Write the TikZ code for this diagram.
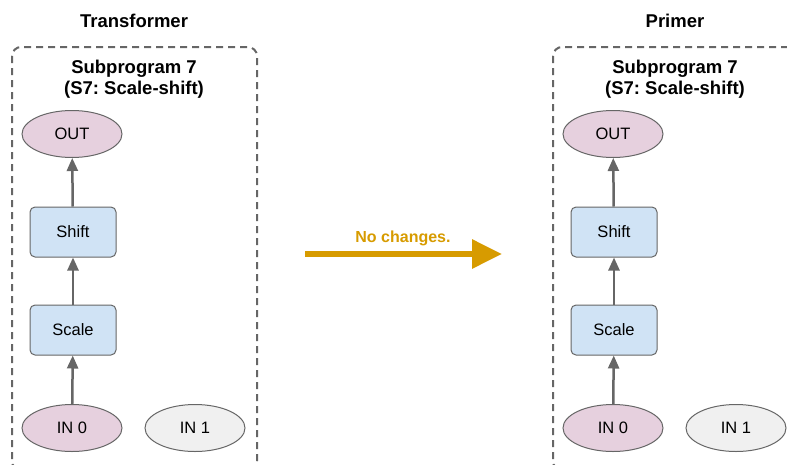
\documentclass[tikz,border=0pt]{standalone}
\usepackage{fontspec}
\setmainfont{Liberation Sans}
\usetikzlibrary{arrows.meta,shapes.geometric}
\definecolor{edgegray}{HTML}{666666}
\definecolor{iopink}{HTML}{E6D0DE}
\definecolor{iogray}{HTML}{F0F0F0}
\definecolor{opblue}{HTML}{D0E3F5}
\definecolor{changegold}{HTML}{D79B00}
\frenchspacing

\begin{document}
\begin{tikzpicture}[x=1pt,y=-1pt,
  io/.style={ellipse,draw=edgegray,line width=1pt,minimum width=100pt,minimum height=47pt,inner sep=0pt,font=\fontsize{16.5}{18}\selectfont},
  op/.style={rectangle,rounded corners=5pt,draw=edgegray,line width=1pt,fill=opblue,minimum width=86pt,minimum height=50pt,font=\fontsize{16.5}{18}\selectfont},
  flow/.style={draw=edgegray,line width=2.5pt,-{Triangle[length=13pt,width=11pt]}}]
\useasboundingbox (0,0) rectangle (787,464);
\clip (0,0) rectangle (787,464);
\foreach \dx/\ttl/\tag in {0/Transformer/T,541/Primer/P}{
  \node[font=\bfseries\fontsize{18.5}{20}\selectfont] (title\tag) at (134+\dx,21) {\ttl};
  \draw[edgegray,line width=2pt,dash pattern=on 7pt off 5pt,rounded corners=9pt] (12+\dx,47) rectangle (257+\dx,470);
  \node[font=\bfseries\fontsize{18.5}{21}\selectfont,align=center] (sub\tag) at (134+\dx,79) {Subprogram 7\\(S7: Scale-shift)};
  \node[io,fill=iopink] (out\tag) at (72+\dx,134) {OUT};
  \node[op] (shift\tag) at (73+\dx,232) {Shift};
  \node[op] (scale\tag) at (73+\dx,330) {Scale};
  \node[io,fill=iopink] (inA\tag) at (72+\dx,428) {IN 0};
  \node[io,fill=iogray] (inB\tag) at (195+\dx,428) {IN 1};
  \draw[flow] (inA\tag) -- (scale\tag);
  \draw[flow] (scale\tag) -- (shift\tag);
  \draw[flow] (shift\tag) -- (out\tag);
}
\coordinate (from) at (305,254);
\coordinate (to) at (502,254);
\draw[changegold,line width=6pt,-{Triangle[length=30pt,width=28pt]}] (from) -- (to);
\node[text=changegold,font=\bfseries\fontsize{16}{18}\selectfont] (nochg) at (403,238) {No changes.};
\end{tikzpicture}
\end{document}
